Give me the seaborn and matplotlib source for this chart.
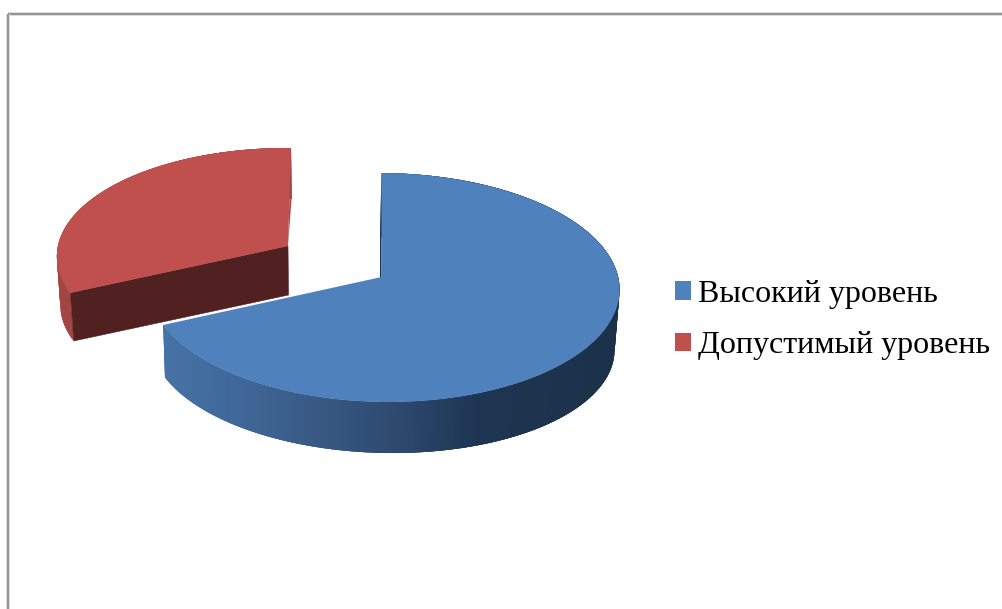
import numpy as np
import matplotlib
matplotlib.use("Agg")
import matplotlib.pyplot as plt
from matplotlib.path import Path
from matplotlib.transforms import Transform
from matplotlib.colors import to_rgb
import seaborn as sns

labels = ["Высокий уровень", "Допустимый уровень"]
values = [68, 32]
colors = ["#4F81BD", "#C0504D"]

sns.set_theme(style="white")
plt.rcParams["font.family"] = ["Liberation Serif", "DejaVu Serif"]


class Persp(Transform):
    """Unit-circle pie coordinates to tilted, perspective pixel coordinates."""
    input_dims = output_dims = 2
    is_separable = False
    has_inverse = False

    def __init__(self, cx, cy, rx, ry, k=0.092, m=0.0, tilt=0.0, shear=0.0):
        super().__init__()
        self.p = (cx, cy, rx, ry, k, m, tilt, shear)

    def transform_non_affine(self, xy):
        xy = np.asarray(xy, float)
        cx, cy, rx, ry, k, m, tilt, shear = self.p
        u, v = xy[:, 0], xy[:, 1]
        w = 1 + k * v + m * u
        return np.column_stack([cx + rx * u / w + shear * v,
                                cy - ry * v / w + tilt * u])

    def transform_path_non_affine(self, path):
        pts = []
        for curve, _ in path.iter_bezier():
            n = 24 if curve.degree > 1 else 2
            pts.append(curve(np.linspace(0, 1, n)))
        return Path(self.transform_non_affine(np.vstack(pts)))


BLUE_TOP = Persp(381.5, 277, 234.3, 113.5, m=-0.0116, tilt=2)
BLUE_BOT = Persp(380, 335, 230.8, 107, m=-0.0116, tilt=5)
RED_TOP = Persp(288, 246, 228, 107, m=0.008, tilt=1, shear=3)
RED_BOT = Persp(288.5, 295, 225, 105, m=0.008, tilt=1, shear=3)

fig = plt.figure(figsize=(10.03, 6.09), dpi=100, facecolor="white")
ax = fig.add_axes([0, 0, 1, 1])
wedges, _ = ax.pie(values, colors=colors, startangle=90, counterclock=False,
                   wedgeprops=dict(linewidth=0))
ax.set_aspect("auto")
ax.set_xlim(0, 1003)
ax.set_ylim(609, 0)
ax.axis("off")

# slice boundaries in radians, from the data
frac = np.array(values) / sum(values)
th0 = np.pi / 2
th1 = th0 - 2 * np.pi * frac[0]     # blue: clockwise from the top
th2 = th1 - 2 * np.pi * frac[1]


def rim(tr, th):
    th = np.atleast_1d(th)
    return tr.transform_non_affine(np.column_stack([np.cos(th), np.sin(th)]))


def center(tr):
    return tr.transform_non_affine(np.array([[0.0, 0.0]]))


def side_wall(top, bot, a, b, shade):
    ths = np.linspace(a, b, 241)
    pt, pb = rim(top, ths), rim(bot, ths)
    for i in range(len(ths) - 1):
        j = min(i + 3, len(ths) - 1)   # overlap neighbours so no seams show
        poly = np.vstack([pt[i], pt[i:j + 1], pb[i:j + 1][::-1]])
        c = shade(0.5 * (pt[i, 0] + pt[i + 1, 0]))
        ax.fill(poly[:, 0], poly[:, 1], color=c, lw=0, zorder=1)


stops_x = [165, 230, 300, 400, 480, 620]
stops_c = np.array([to_rgb(c) for c in
                    ["#4672A6", "#40699A", "#3A5D88", "#2D496E", "#1E3552", "#1C3149"]])


def blue_shade(x):
    return tuple(np.interp(x, stops_x, stops_c[:, j]) for j in range(3))


side_wall(BLUE_TOP, BLUE_BOT, th0, th1, blue_shade)

# thin inner face beside the blue slice's vertical cut
p = np.vstack([center(BLUE_TOP), rim(BLUE_TOP, th0), rim(BLUE_BOT, th0), center(BLUE_BOT)])
ax.fill(p[:, 0], p[:, 1], color="#1C3149", lw=0, zorder=1)

# red slice: rim wall, sliver at the back edge, then dark cut face
side_wall(RED_TOP, RED_BOT, th1, th2, lambda x: "#A24643")
p = np.vstack([center(RED_TOP), rim(RED_TOP, th0), rim(RED_BOT, th0)])
ax.fill(p[:, 0], p[:, 1], color="#A24643", lw=0, zorder=1)
p = np.vstack([center(RED_TOP), rim(RED_TOP, th1), rim(RED_BOT, th1), center(RED_BOT)])
ax.fill(p[:, 0], p[:, 1], color="#512020", lw=0.4, zorder=2)

wedges[0].set_transform(BLUE_TOP + ax.transData)
wedges[1].set_transform(RED_TOP + ax.transData)
wedges[0].set_zorder(3)
wedges[1].set_zorder(3)
for w in wedges:
    w.set_clip_on(False)

# picture frame (top and left only)
for xs, ys in (([8.5, 1003], [13.5, 13.5]), ([8.5, 8.5], [13.5, 609])):
    ax.plot(xs, ys, color="#D8D8D8", lw=2.6, solid_capstyle="butt", zorder=0)
    ax.plot(xs, ys, color="#808080", lw=1.1, solid_capstyle="butt", zorder=0)

ax.legend(wedges, labels, loc="center left", bbox_to_anchor=(675 / 1003, 1 - 320 / 609),
          frameon=False, fontsize=23, handlelength=0.5, handleheight=0.5,
          handletextpad=0.22, labelspacing=0.70, borderpad=0, borderaxespad=0,
          labelcolor="black")

fig.savefig("out.png", dpi=100)
